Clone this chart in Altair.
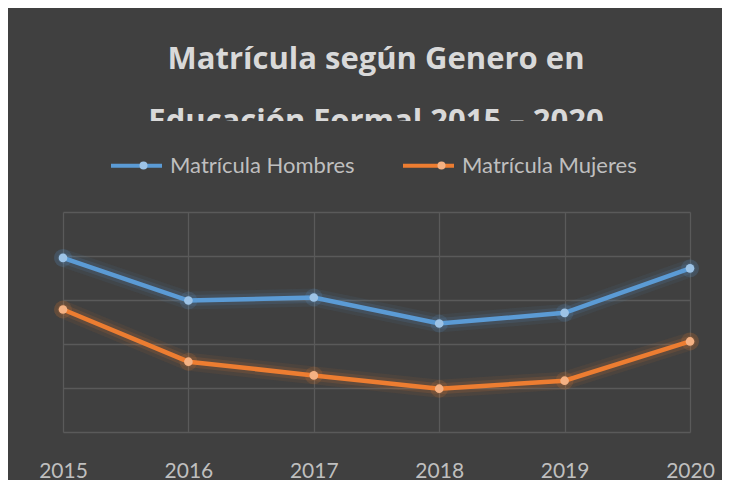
import altair as alt
import pandas as pd

YEARS = ["2015", "2016", "2017", "2018", "2019", "2020"]
HOMBRES = [197800, 149400, 152800, 123300, 135400, 186000]
MUJERES = [139200, 79900, 64300, 49200, 58300, 102900]
SERIES = ["Matrícula Hombres", "Matrícula Mujeres"]
LINE_COLORS = ["#5b9bd5", "#ed7d31"]
DOT_COLORS = ["#9dc3e6", "#f4b183"]
TITLE_LINE1 = "Matrícula según Genero en"
TITLE_LINE2 = "Educación Formal 2015 – 2020"
Y_TICKS = [0, 50000, 100000, 150000, 200000, 250000]

BG = "#404040"
FONT = "Lato"
TFONT = "Open Sans"

rows = []
for name, vals in zip(SERIES, [HOMBRES, MUJERES]):
    for y, v in zip(YEARS, vals):
        rows.append({"Año": y, "Serie": name, "Valor": v})
df = pd.DataFrame(rows)

x_enc = alt.X("Año:N", scale=alt.Scale(type="point", padding=0),
              axis=alt.Axis(title=None, labelAngle=0, labelFont=FONT, labelFontSize=21,
                            labelColor="#bfbfbf", ticks=False, tickSize=0, domain=False,
                            labelPadding=45, labelBaseline="alphabetic",
                            grid=True, gridColor="#5a5a5a", gridWidth=1.3))
y_enc = alt.Y("Valor:Q", scale=alt.Scale(domain=[0, 250000], nice=False),
              axis=alt.Axis(title=None, labels=False, ticks=False, domain=False,
                            values=Y_TICKS, grid=True, gridColor="#5a5a5a", gridWidth=1.3))

LEG_X = 46
LEG_Y = -74
line_legend = alt.Legend(title=None, orient="none", direction="horizontal",
                         legendX=LEG_X, legendY=LEG_Y,
                         symbolType="stroke", symbolSize=2601,
                         symbolStrokeWidth=4, symbolOpacity=1,
                         labelFont=FONT, labelFontSize=22,
                         labelColor="#bfbfbf", labelOffset=6,
                         columnPadding=40, labelLimit=300)
dot_legend = alt.Legend(title=None, orient="none", direction="horizontal",
                        legendX=LEG_X + 23.5, legendY=LEG_Y + 16.5,
                        symbolType="circle", symbolSize=64,
                        symbolStrokeWidth=0, symbolOpacity=1,
                        labelExpr="''", labelFontSize=22,
                        labelOffset=0, columnPadding=276)
color_enc = alt.Color("Serie:N", scale=alt.Scale(domain=SERIES, range=LINE_COLORS),
                      sort=SERIES, legend=line_legend)

base = alt.Chart(df)

glow1 = base.mark_line(strokeWidth=18, opacity=0.07, strokeCap="round").encode(
    x=x_enc, y=y_enc, color=color_enc)
glow2 = base.mark_line(strokeWidth=11, opacity=0.13, strokeCap="round").encode(
    x=x_enc, y=y_enc, color=color_enc)
dot_glow = base.mark_circle(size=320, opacity=0.15).encode(
    x=x_enc, y=y_enc, color=color_enc)

lines = base.mark_line(strokeWidth=4.5).encode(
    x=x_enc, y=y_enc, color=color_enc)
dots = base.mark_point(filled=True, size=75, opacity=1).encode(
    x=x_enc, y=y_enc,
    fill=alt.Fill("Serie:N", scale=alt.Scale(domain=SERIES, range=DOT_COLORS),
                  sort=SERIES, legend=dot_legend))

t1 = alt.Chart(pd.DataFrame({"t": [TITLE_LINE1]})).mark_text(
    font=TFONT, fontWeight="bold", fontSize=31, color="#d9d9d9",
    align="center", baseline="alphabetic").encode(
    text="t:N", x=alt.value(313), y=alt.value(-143))
t2 = alt.Chart(pd.DataFrame({"t": [TITLE_LINE2]})).mark_text(
    font=TFONT, fontWeight="bold", fontSize=31, color="#d9d9d9",
    align="center", baseline="alphabetic").encode(
    text="t:N", x=alt.value(313), y=alt.value(-81))
mask = alt.Chart(pd.DataFrame({"t": [0]})).mark_rect(color=BG).encode(
    x=alt.value(-55), x2=alt.value(672), y=alt.value(-91), y2=alt.value(-80))

chart = alt.layer(glow1, glow2, dot_glow, lines, dots, t1, t2, mask).resolve_scale(
    fill="independent"
).properties(
    width=627, height=220,
    autosize=alt.AutoSizeParams(type="none"),
    padding={"left": 55, "top": 204, "right": 32, "bottom": 48},
    background=BG,
).configure_view(stroke=None)

chart.save("out.html", embed_options={"renderer": "svg", "actions": False})
